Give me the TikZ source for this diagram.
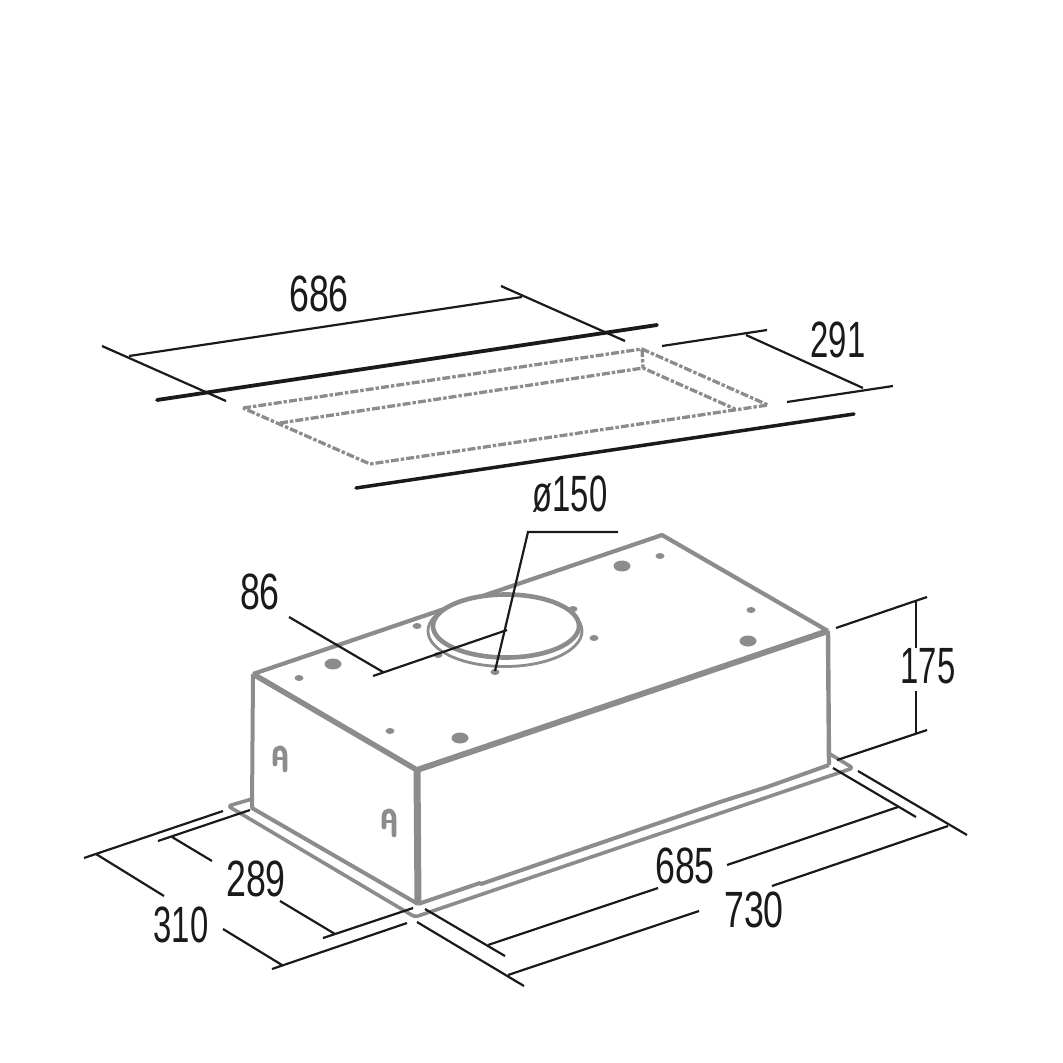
\documentclass[tikz,border=0pt]{standalone}
\usepackage{fontspec}
\setmainfont{Liberation Sans}
\usetikzlibrary{shapes.geometric}
\definecolor{bodygray}{HTML}{8C8C8C}
\definecolor{dimblack}{HTML}{1A1A1A}
\tikzset{
    dimline/.style={draw=dimblack, line width=2.2pt},
    wallline/.style={draw=dimblack, line cap=round},
    cutline/.style={draw=bodygray, line width=3.3pt, dash pattern=on 8pt off 2pt on 3.5pt off 2pt},
    bodyline/.style={draw=bodygray, line join=round},
    dimlabel/.style={font=\fontsize{51}{51}\selectfont, text=dimblack, xscale=0.7, transform shape, inner sep=0pt},
    onelabel/.style={dimlabel, xscale=0.92},
    bighole/.style={ellipse, fill=bodygray, inner sep=0pt, minimum width=17pt, minimum height=11pt},
    smallhole/.style={ellipse, fill=bodygray, inner sep=0pt, minimum width=9pt, minimum height=6pt}
}
\begin{document}
\begin{tikzpicture}
    [x=1pt, y=-1pt]
    \useasboundingbox (0,0) rectangle (1063,1063);
    % ceiling cut-out
    \draw[wallline, line width=3.8pt] (157,400) -- (657,325);
    \draw[wallline, line width=3.5pt] (356,488) -- (854,414);
    \draw[cutline] (243,408) -- (642,349) -- (768,405) -- (370,464) -- cycle;
    \draw[cutline] (280,423) -- (643,368) -- (735,409);
    \draw[cutline] (642,349) -- (643,368);
    \draw[dimline] (102,346) -- (226,401);
    \draw[dimline] (501,286) -- (625,341);
    \draw[dimline] (129,356) -- (522,297);
    \draw[dimline] (662,346) -- (767,330);
    \draw[dimline] (787,402) -- (893,386);
    \draw[dimline] (746,335) -- (863,388);
    \node[dimlabel] (width686) at (319,294) {686};
    \node[onelabel] (depth291) at (838,340) {291};
    % hood body
    \coordinate (topleft) at (253,674);
    \coordinate (topback) at (662,535);
    \coordinate (topright) at (828,631);
    \coordinate (topfront) at (417,770);
    \coordinate (baseleft) at (252,808);
    \coordinate (basefront) at (418,904);
    \coordinate (baseright) at (829,765);
    \draw[bodyline, line width=3.6pt, rounded corners=3pt] (252,799) -- (228,806) -- (415,917) -- (853,768) -- (830,754);
    \draw[bodyline, line width=4pt] (topleft) -- (baseleft) -- (basefront);
    \draw[bodyline, line width=4pt] (basefront) -- (480,883) -- (481,884) -- (720,802) -- (767,787) -- (baseright);
    \draw[bodyline, line width=4.4pt] (topright) -- (baseright);
    \draw[bodyline, line width=7pt] (topfront) -- (basefront);
    \draw[bodyline, line width=4.2pt] (topleft) -- (topback) -- (topright);
    \draw[bodyline, line width=5.5pt] (topleft) -- (topfront);
    \draw[bodyline, line width=6pt] (topfront) -- (topright);
    % fixing holes
    \node[bighole] (hole1) at (333,664) {};
    \node[bighole] (hole2) at (460,738) {};
    \node[bighole] (hole3) at (622,566) {};
    \node[bighole] (hole4) at (748,641) {};
    \node[smallhole] (hole5) at (299,678) {};
    \node[smallhole] (hole6) at (417,626) {};
    \node[smallhole] (hole7) at (390,731) {};
    \node[smallhole] (hole8) at (438,655) {};
    \node[smallhole] (hole9) at (573,609) {};
    \node[smallhole] (hole10) at (594,638) {};
    \node[smallhole] (hole11) at (495,672) {};
    \node[smallhole] (hole12) at (660,556) {};
    \node[smallhole] (hole13) at (751,610) {};
    % outlet
    \draw[bodyline, line width=2.8pt, fill=white] (505,631) ellipse [x radius=77, y radius=35.5];
    \draw[bodyline, line width=4.6pt, fill=white] (506,626) ellipse [x radius=73, y radius=31.5];
    % side hooks
    \draw[bodyline, line width=4.6pt, line cap=round] (275,764) -- (275,754) .. controls (275,745) and (285,746) .. (285,755) -- (285,770);
    \draw[bodyline, line width=3pt] (276,758) -- (284,758);
    \draw[bodyline, line width=4.6pt, line cap=round] (384,827) -- (384,817) .. controls (384,808) and (394,809) .. (394,818) -- (394,835);
    \draw[bodyline, line width=3pt] (385,821) -- (393,821);
    % dimensions on the body
    \draw[dimline] (618,532) -- (528,532) -- (495,671);
    \draw[dimline] (289,617) -- (383,672);
    \draw[dimline] (373,676) -- (507,630);
    \draw[dimline] (836,628) -- (927,597);
    \draw[dimline] (837,760) -- (927,730);
    \draw[dimline] (916,600) -- (916,648);
    \draw[dimline] (916,691) -- (916,733);
    \draw[dimline] (833,768) -- (916,817);
    \draw[dimline] (858,771) -- (967,835);
    \draw[dimline] (898,807) -- (727,865);
    \draw[dimline] (658,888) -- (488,945);
    \draw[dimline] (948,826) -- (772,886);
    \draw[dimline] (699,911) -- (508,975);
    \draw[dimline] (425,909) -- (505,956);
    \draw[dimline] (417,922) -- (524,986);
    \draw[dimline] (250,810) -- (158,841);
    \draw[dimline] (223,811) -- (84,858);
    \draw[dimline] (172,837) -- (212,861);
    \draw[dimline] (96,854) -- (164,896);
    \draw[dimline] (280,901) -- (335,934);
    \draw[dimline] (223,929) -- (282,965);
    \draw[dimline] (413,908) -- (323,938);
    \draw[dimline] (407,923) -- (272,969);
    \node[onelabel] (dia150) at (570,494) {ø150};
    \node[dimlabel] (offset86) at (260,592) {86};
    \node[onelabel] (height175) at (928,666) {175};
    \node[dimlabel] (width685) at (685,866) {685};
    \node[dimlabel] (width730) at (754,910) {730};
    \node[dimlabel] (depth289) at (256,879) {289};
    \node[onelabel] (depth310) at (181,925) {310};
\end{tikzpicture}
\end{document}
